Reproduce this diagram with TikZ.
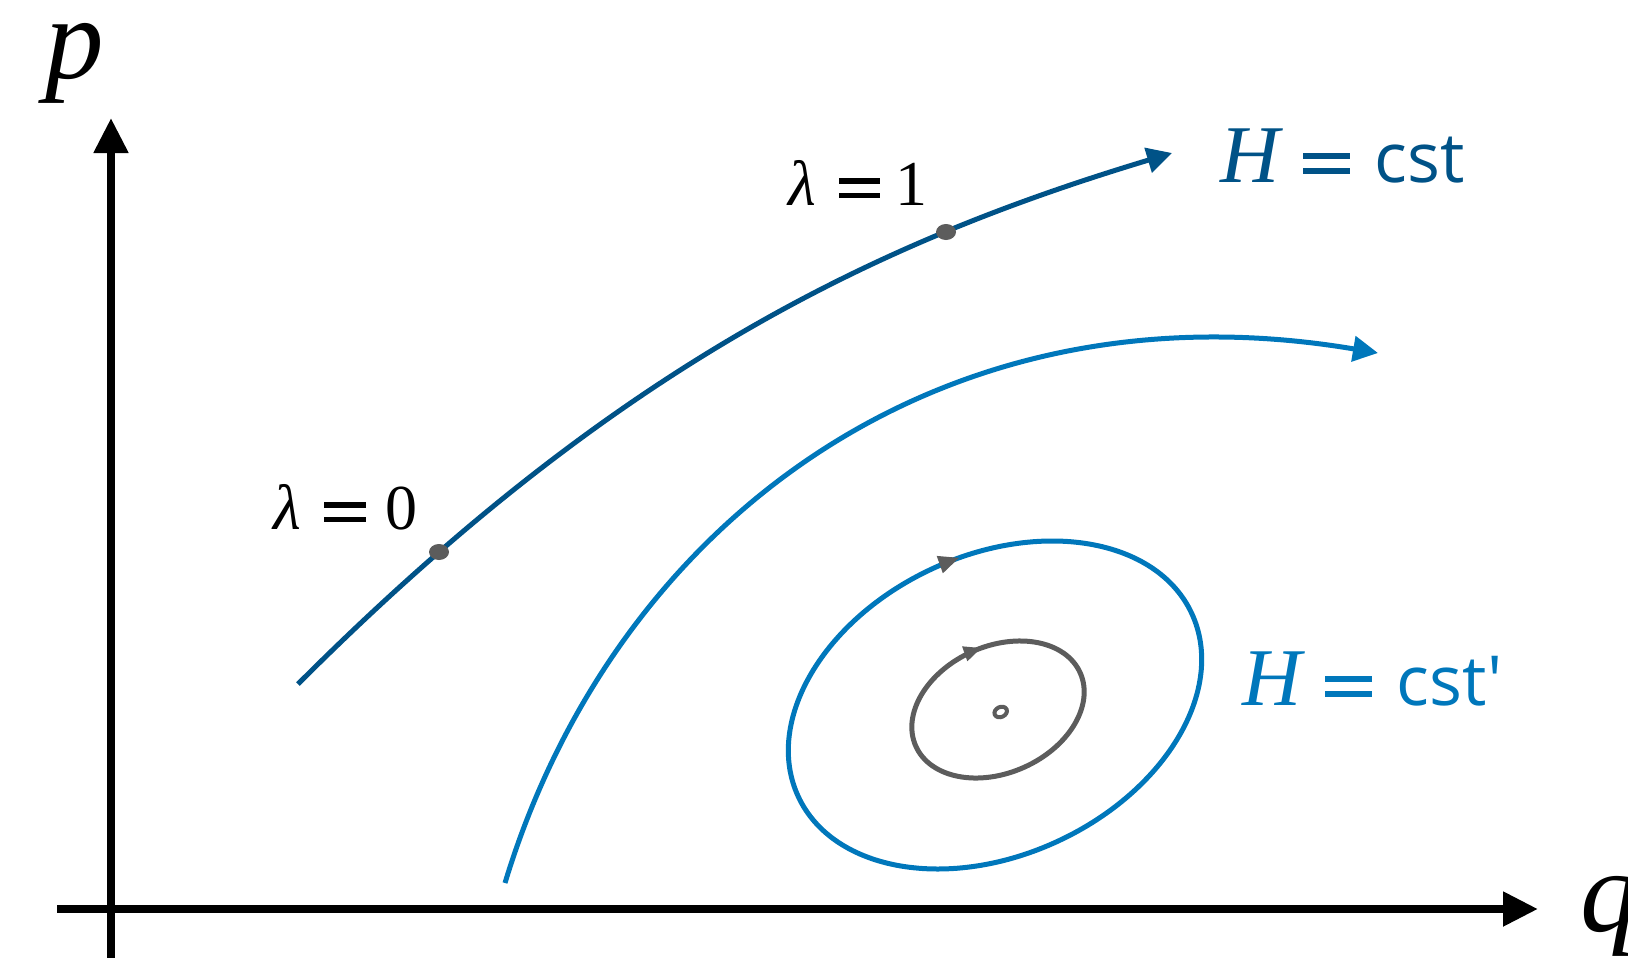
\documentclass[tikz,border=0pt]{standalone}
\usepackage{fix-cm}
\usepackage{fontspec}
\setmainfont{Liberation Serif}
\newfontfamily\osans{Open Sans}
\usetikzlibrary{arrows.meta,decorations.markings,shapes.geometric}
\definecolor{dblue}{RGB}{0,82,135}
\definecolor{lblue}{RGB}{0,119,187}
\definecolor{dgray}{RGB}{92,92,92}
\tikzset{
  axisline/.style={line width=8pt, black, -{Triangle[length=35pt,width=33pt]}},
  traj/.style={line width=5pt},
  bigtip/.style={-{Triangle[length=25pt,width=25pt]}},
  dotnode/.style={ellipse, fill=dgray, inner sep=0pt, minimum width=20pt, minimum height=16pt},
  lbl/.style={inner sep=0pt, anchor=base west},
  flowmark/.style 2 args={postaction={decorate}, decoration={markings,
      mark=at position #1 with {\arrow{Triangle[length=#2pt,width=#2pt*0.8,color=dgray]}}}}
}
\newcommand{\fsz}[1]{\fontsize{#1}{#1}\selectfont}
% equals sign built from two rules: #1 width
\newcommand{\myeq}[1]{\rlap{\rule[0.335em]{#1}{0.08em}}\rule[0.115em]{#1}{0.08em}}
\begin{document}
\begin{tikzpicture}[x=1pt,y=-1pt]
\clip (0,0) rectangle (1628,958);
% axes
\coordinate (ybot) at (111,958);
\coordinate (ytop) at (111,118);
\coordinate (xleft) at (57,909);
\coordinate (xright) at (1538,909);
\draw[axisline] (ybot) -- (ytop);
\draw[axisline] (xleft) -- (xright);
\node[lbl] (plabel) at (45,78) {\fsz{117}\itshape p};
\node[lbl] (qlabel) at (1580,931) {\fsz{117}\itshape q};
% curve 1 (H = cst)
\coordinate (c1s) at (298,684);
\coordinate (c1e) at (1172,153);
\draw[traj, dblue, bigtip] (c1s) .. controls (620,362) and (880,241) .. (c1e);
\node[dotnode] (l0) at (439,552) {};
\node[dotnode] (l1) at (946,232) {};
\node[lbl] (l0label) at (273,529) {\fsz{64}{\itshape λ}\hspace{23pt}\myeq{42pt}\hspace{19.5pt}0};
\node[lbl] (l1label) at (788,205) {\fsz{64}{\itshape λ}\hspace{23pt}\myeq{41pt}\hspace{16pt}1};
\node[lbl, text=dblue] (hlabel) at (1220,182) {\fsz{82}{\itshape H}\fsz{70}\hspace{24pt}\myeq{47pt}\hspace{24pt}{\osans\fsz{69}cst}};
% curve 2
\coordinate (c2s) at (505,883);
\coordinate (c2e) at (1378,353);
\draw[traj, lblue, bigtip] (c2s) .. controls (612,529) and (934,278) .. (c2e);
% closed orbits
\draw[traj, lblue, flowmark={0.776}{21}] [shift={(995,705)}, rotate=25] (0,0) ellipse [x radius=217, y radius=150];
\draw[traj, dgray, flowmark={0.771}{18}] [shift={(998,709.5)}, rotate=24] (0,0) ellipse [x radius=90, y radius=63.4];
\draw[line width=4pt, dgray] [shift={(1000.7,712)}, rotate=25] (0,0) ellipse [x radius=6.5, y radius=5];
\node[lbl, text=lblue] (hplabel) at (1242,705) {\fsz{82}{\itshape H}\fsz{70}\hspace{24pt}\myeq{47pt}\hspace{24pt}{\osans\fsz{69}cst'}};
\end{tikzpicture}
\end{document}
